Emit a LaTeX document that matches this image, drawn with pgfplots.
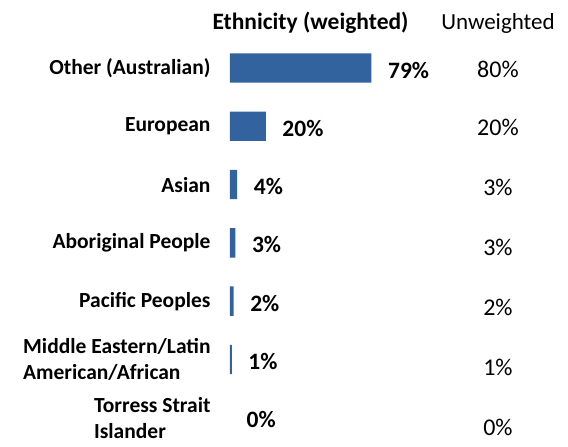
\documentclass[border=0pt]{standalone}
\usepackage{pgfplots}
\pgfplotsset{compat=1.18}
\usepackage{fontspec}
\setmainfont{Carlito}
\definecolor{barblue}{RGB}{50,99,158}
\begin{document}
\begin{tikzpicture}
\useasboundingbox (0,0) rectangle (568pt,-447pt);
\node[anchor=base, inner sep=0pt, font=\bfseries\fontsize{23.5}{28}\selectfont] at (310.5pt,-30pt) {Ethnicity (weighted)};
\node[anchor=base, inner sep=0pt, font=\fontsize{23}{28}\selectfont] at (498pt,-30pt) {Unweighted};
\begin{axis}[
  at={(230pt,-38.85pt)}, anchor=north west,
  scale only axis, width=322.2pt, height=408pt,
  xmin=0, xmax=180, ymin=-0.5, ymax=6.5, y dir=reverse,
  axis lines=left, axis line style={draw=none,-},
  xtick=\empty,
  ytick={0,1,2,3,4,5,6},
  yticklabels={Other (Australian),European,Asian,Aboriginal People,Pacific Peoples,{Middle Eastern/Latin\\American/African},{Torress Strait\\Islander}},
  major tick length=0pt,
  yticklabel style={align=left, anchor=east, inner sep=0pt, xshift=-19.3pt,
    font=\bfseries\fontsize{21.5}{26}\selectfont},
  clip=false,
  wlabel/.style={nodes near coords, point meta=explicit symbolic,
    nodes near coords style={anchor=west, inner sep=0pt, xshift=16.5pt, yshift=-2pt,
    text=black, font=\bfseries\fontsize{23.5}{28}\selectfont}},
]
% weighted shares (bars)
\addplot[xbar, bar width=29.3pt, bar shift=0pt, fill=barblue, draw=none, wlabel]
  coordinates {(79,0) [79\%] (20,1) [20\%] (4,2) [4\%] (3,3) [3\%] (2,4) [2\%] (1,5) [1\%]};
% zero-width bar: label only
\addplot[xbar, bar width=29.3pt, bar shift=0pt, fill=none, draw=none, wlabel]
  coordinates {(0,6) [0\%]};
% unweighted column
\addplot[draw=none, mark=none, nodes near coords, point meta=explicit symbolic,
  nodes near coords style={anchor=center, inner sep=0pt, text=black,
    font=\fontsize{24}{28}\selectfont}]
  coordinates {(149.7,0.017) [80\%] (149.7,1.026) [20\%] (149.7,2.051) [3\%] (149.7,3.072) [3\%] (149.7,4.106) [2\%] (149.7,5.137) [1\%] (149.7,6.172) [0\%]};
\end{axis}
\end{tikzpicture}
\end{document}
